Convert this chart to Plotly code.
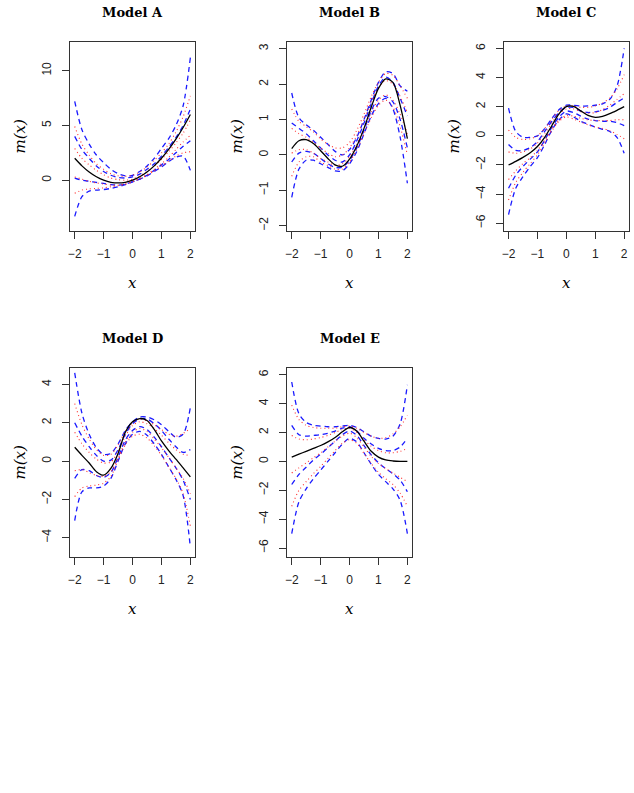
import plotly.graph_objects as go

# ---------------- data ----------------
X = [-2.0, -1.75, -1.5, -1.25, -1.0, -0.75, -0.5, -0.25, 0.0,
     0.25, 0.5, 0.75, 1.0, 1.25, 1.5, 1.75, 2.0]
X_TICKS = [-2, -1, 0, 1, 2]
TITLES = ["Model A", "Model B", "Model C", "Model D", "Model E"]

A_YTICKS = [0, 5, 10]
A_TRUE = [2.0, 1.31, 0.75, 0.31, 0.0, -0.19, -0.25, -0.19, 0.0, 0.31, 0.75, 1.31, 2.0, 2.81, 3.75, 4.81, 6.0]
A_BLUE_1 = [7.2, 4.6, 3.3, 2.3, 1.6, 1.0, 0.6, 0.4, 0.45, 0.8, 1.3, 2.0, 2.9, 3.8, 5.0, 6.8, 11.2]
A_BLUE_2 = [4.0, 2.8, 2.0, 1.3, 0.8, 0.45, 0.25, 0.2, 0.3, 0.55, 1.0, 1.5, 2.2, 3.0, 3.9, 5.0, 6.5]
A_BLUE_3 = [0.2, 0.0, -0.1, -0.2, -0.3, -0.4, -0.45, -0.35, -0.15, 0.1, 0.45, 0.9, 1.4, 1.9, 2.5, 3.1, 3.6]
A_BLUE_4 = [-3.3, -1.5, -1.0, -0.9, -0.85, -0.75, -0.6, -0.4, -0.15, 0.1, 0.4, 0.8, 1.2, 1.7, 2.1, 2.2, 0.9]
A_RED_1 = [4.9, 3.3, 2.3, 1.5, 1.0, 0.6, 0.4, 0.35, 0.45, 0.75, 1.2, 1.8, 2.5, 3.3, 4.4, 5.8, 7.7]
A_RED_2 = [2.9, 2.0, 1.4, 0.9, 0.5, 0.2, 0.05, 0.0, 0.1, 0.4, 0.8, 1.3, 1.9, 2.6, 3.4, 4.3, 5.5]
A_RED_3 = [0.3, 0.1, -0.1, -0.25, -0.35, -0.45, -0.45, -0.35, -0.15, 0.15, 0.5, 1.0, 1.5, 2.1, 2.8, 3.5, 4.1]
A_RED_4 = [-1.2, -0.9, -0.8, -0.75, -0.7, -0.6, -0.5, -0.35, -0.1, 0.15, 0.45, 0.85, 1.3, 1.75, 2.2, 2.5, 2.6]

B_YTICKS = [-2, -1, 0, 1, 2, 3]
B_TRUE = [0.18, 0.40, 0.43, 0.32, 0.12, -0.1, -0.28, -0.32, -0.12, 0.25, 0.75, 1.35, 1.88, 2.15, 2.05, 1.4, 0.46]
B_BLUE_1 = [1.75, 1.05, 0.85, 0.7, 0.5, 0.3, 0.1, 0.0, 0.15, 0.5, 1.0, 1.55, 2.05, 2.35, 2.3, 1.95, 1.8]
B_BLUE_2 = [0.9, 0.75, 0.6, 0.4, 0.2, 0.0, -0.15, -0.2, 0.0, 0.4, 0.9, 1.45, 1.95, 2.2, 2.05, 1.6, 1.1]
B_BLUE_3 = [-0.2, 0.05, 0.1, 0.05, -0.1, -0.25, -0.35, -0.35, -0.15, 0.2, 0.7, 1.25, 1.6, 1.65, 1.5, 1.0, 0.2]
B_BLUE_4 = [-1.2, -0.4, -0.15, -0.15, -0.25, -0.35, -0.45, -0.45, -0.25, 0.1, 0.6, 1.1, 1.45, 1.6, 1.3, 0.5, -0.8]
B_RED_1 = [1.3, 0.95, 0.8, 0.65, 0.45, 0.3, 0.2, 0.2, 0.35, 0.7, 1.15, 1.65, 2.05, 2.3, 2.25, 1.95, 1.6]
B_RED_2 = [0.75, 0.6, 0.5, 0.35, 0.2, 0.05, -0.05, 0.0, 0.2, 0.55, 1.0, 1.5, 1.9, 2.1, 2.0, 1.65, 1.2]
B_RED_3 = [0.05, 0.15, 0.15, 0.05, -0.1, -0.2, -0.3, -0.25, -0.05, 0.3, 0.75, 1.2, 1.55, 1.7, 1.55, 1.15, 0.6]
B_RED_4 = [-0.6, -0.2, -0.05, -0.05, -0.2, -0.3, -0.4, -0.4, -0.2, 0.15, 0.6, 1.05, 1.4, 1.55, 1.35, 0.8, 0.0]

C_YTICKS = [-6, -4, -2, 0, 2, 4, 6]
C_TRUE = [-2.0, -1.75, -1.48, -1.16, -0.73, -0.10, 0.71, 1.52, 2.0, 2.02, 1.71, 1.40, 1.27, 1.34, 1.52, 1.75, 2.0]
C_BLUE_1 = [1.9, 0.3, -0.1, -0.1, 0.0, 0.5, 1.2, 1.8, 2.1, 2.1, 2.05, 2.05, 2.1, 2.2, 2.5, 3.4, 6.0]
C_BLUE_2 = [-0.6, -1.0, -1.0, -0.8, -0.4, 0.3, 1.0, 1.6, 1.95, 1.95, 1.7, 1.6, 1.65, 1.75, 1.95, 2.3, 2.6]
C_BLUE_3 = [-3.6, -2.7, -2.1, -1.6, -1.1, -0.3, 0.6, 1.3, 1.7, 1.6, 1.35, 1.15, 1.05, 1.0, 1.0, 0.9, 0.7]
C_BLUE_4 = [-5.4, -3.6, -2.8, -2.1, -1.5, -0.6, 0.4, 1.1, 1.5, 1.3, 1.0, 0.8, 0.6, 0.45, 0.3, -0.1, -1.2]
C_RED_1 = [0.4, -0.1, -0.25, -0.2, 0.0, 0.5, 1.15, 1.75, 2.05, 2.05, 1.95, 1.95, 2.05, 2.25, 2.6, 3.2, 4.2]
C_RED_2 = [-1.1, -1.2, -1.1, -0.9, -0.5, 0.15, 0.9, 1.5, 1.85, 1.85, 1.65, 1.55, 1.6, 1.8, 2.1, 2.5, 2.9]
C_RED_3 = [-3.0, -2.4, -1.9, -1.5, -1.0, -0.3, 0.5, 1.1, 1.4, 1.35, 1.2, 1.1, 1.05, 1.05, 1.05, 1.1, 1.1]
C_RED_4 = [-4.4, -3.2, -2.5, -1.9, -1.3, -0.5, 0.35, 1.0, 1.3, 1.15, 0.95, 0.75, 0.6, 0.5, 0.35, 0.1, -0.2]

D_YTICKS = [-4, -2, 0, 2, 4]
D_TRUE = [0.72, 0.3, -0.1, -0.55, -0.73, -0.38, 0.4, 1.5, 2.05, 2.22, 2.12, 1.65, 1.05, 0.55, 0.1, -0.35, -0.82]
D_BLUE_1 = [4.6, 2.5, 1.4, 0.7, 0.35, 0.4, 0.9, 1.6, 2.05, 2.3, 2.3, 2.15, 1.9, 1.55, 1.25, 1.4, 2.8]
D_BLUE_2 = [2.0, 1.3, 0.75, 0.3, 0.0, 0.05, 0.6, 1.4, 1.95, 2.2, 2.2, 1.95, 1.6, 1.15, 0.75, 0.45, 0.6]
D_BLUE_3 = [-0.9, -0.45, -0.5, -0.75, -0.85, -0.6, 0.2, 1.1, 1.6, 1.8, 1.65, 1.25, 0.75, 0.2, -0.35, -1.0, -2.0]
D_BLUE_4 = [-3.1, -1.6, -1.4, -1.4, -1.3, -0.9, 0.0, 0.9, 1.4, 1.55, 1.35, 0.9, 0.35, -0.3, -0.95, -1.8, -4.5]
D_RED_1 = [3.0, 1.9, 1.15, 0.6, 0.3, 0.35, 0.85, 1.55, 2.0, 2.2, 2.1, 1.9, 1.65, 1.4, 1.3, 1.45, 1.7]
D_RED_2 = [1.5, 0.9, 0.45, 0.1, -0.1, -0.05, 0.5, 1.3, 1.85, 2.05, 1.95, 1.7, 1.35, 0.95, 0.6, 0.35, 0.3]
D_RED_3 = [-0.5, -0.45, -0.6, -0.75, -0.8, -0.55, 0.15, 1.0, 1.5, 1.7, 1.55, 1.15, 0.7, 0.2, -0.35, -0.9, -1.7]
D_RED_4 = [-1.85, -1.4, -1.3, -1.25, -1.15, -0.8, 0.05, 0.85, 1.3, 1.4, 1.2, 0.8, 0.3, -0.3, -0.9, -1.7, -3.4]

E_YTICKS = [-6, -4, -2, 0, 2, 4, 6]
E_TRUE = [0.3, 0.5, 0.7, 0.9, 1.1, 1.35, 1.65, 2.05, 2.35, 2.1, 1.4, 0.7, 0.3, 0.1, 0.03, 0.0, 0.0]
E_BLUE_1 = [5.5, 3.3, 2.7, 2.5, 2.45, 2.4, 2.4, 2.45, 2.5, 2.35, 2.05, 1.75, 1.6, 1.55, 1.75, 2.6, 5.3]
E_BLUE_2 = [2.5, 1.85, 1.75, 1.8, 1.85, 1.95, 2.1, 2.3, 2.4, 2.1, 1.6, 1.2, 0.9, 0.75, 0.75, 1.0, 1.6]
E_BLUE_3 = [-1.6, -0.9, -0.4, 0.1, 0.5, 0.95, 1.4, 1.85, 2.1, 1.8, 1.1, 0.45, -0.1, -0.5, -0.85, -1.3, -2.1]
E_BLUE_4 = [-5.0, -2.8, -1.9, -1.2, -0.6, 0.0, 0.6, 1.2, 1.6, 1.35, 0.6, -0.2, -0.9, -1.4, -1.9, -2.7, -5.0]
E_RED_1 = [3.9, 2.9, 2.5, 2.35, 2.3, 2.3, 2.3, 2.4, 2.45, 2.3, 2.0, 1.75, 1.6, 1.65, 1.9, 2.4, 3.2]
E_RED_2 = [1.8, 1.55, 1.5, 1.55, 1.65, 1.8, 2.0, 2.2, 2.3, 2.0, 1.5, 1.05, 0.75, 0.6, 0.6, 0.7, 0.9]
E_RED_3 = [-0.8, -0.45, -0.1, 0.25, 0.6, 1.0, 1.4, 1.75, 1.95, 1.65, 1.0, 0.35, -0.15, -0.5, -0.8, -1.1, -1.4]
E_RED_4 = [-3.1, -2.0, -1.4, -0.85, -0.35, 0.2, 0.75, 1.25, 1.5, 1.25, 0.55, -0.15, -0.75, -1.2, -1.6, -2.2, -3.1]

# ---------------- layout (pixels) ----------------
W, H = 634, 793
COL_LEFT = [68.3, 286.0, 503.5]
BOX_W = 125.3
ROW_TOP = [41.7, 367.7]
BOX_H = 189.3
X_RANGE = [-2.16, 2.16]
Y_RANGES = [[-4.64, 12.65], [-2.15, 3.2], [-6.53, 6.46], [-5.0, 4.87], [-6.62, 6.49]]

panels = [
    (A_YTICKS, A_TRUE, [A_BLUE_1, A_BLUE_2, A_BLUE_3, A_BLUE_4], [A_RED_1, A_RED_2, A_RED_3, A_RED_4]),
    (B_YTICKS, B_TRUE, [B_BLUE_1, B_BLUE_2, B_BLUE_3, B_BLUE_4], [B_RED_1, B_RED_2, B_RED_3, B_RED_4]),
    (C_YTICKS, C_TRUE, [C_BLUE_1, C_BLUE_2, C_BLUE_3, C_BLUE_4], [C_RED_1, C_RED_2, C_RED_3, C_RED_4]),
    (D_YTICKS, D_TRUE, [D_BLUE_1, D_BLUE_2, D_BLUE_3, D_BLUE_4], [D_RED_1, D_RED_2, D_RED_3, D_RED_4]),
    (E_YTICKS, E_TRUE, [E_BLUE_1, E_BLUE_2, E_BLUE_3, E_BLUE_4], [E_RED_1, E_RED_2, E_RED_3, E_RED_4]),
]

fig = go.Figure()
annotations = []
layout_axes = {}

TICK_FONT = dict(family="Liberation Sans, Arial, sans-serif", size=12, color="#222")
SERIF_IT = dict(family="DejaVu Serif, serif", size=15, color="black", style="italic")
TITLE_FONT = dict(family="DejaVu Serif, serif", size=13, color="black", weight="bold")

for i, (yticks, truth, blues, reds) in enumerate(panels):
    r, c = divmod(i, 3)
    left = COL_LEFT[c]
    top = ROW_TOP[r]
    xd = [left / W, (left + BOX_W) / W]
    yd = [1 - (top + BOX_H) / H, 1 - top / H]
    n = i + 1
    xa = "xaxis" if n == 1 else f"xaxis{n}"
    ya = "yaxis" if n == 1 else f"yaxis{n}"
    xref = "x" if n == 1 else f"x{n}"
    yref = "y" if n == 1 else f"y{n}"

    for b in blues:
        fig.add_trace(go.Scatter(x=X, y=b, mode="lines", xaxis=xref, yaxis=yref,
                                 line=dict(color="#1a1aff", width=1.3, dash="5px,4px", shape="spline", smoothing=0.8),
                                 showlegend=False, hoverinfo="skip"))
    for rd in reds:
        fig.add_trace(go.Scatter(x=X, y=rd, mode="lines", xaxis=xref, yaxis=yref,
                                 line=dict(color="#ff3030", width=1.1, dash="1px,3px", shape="spline", smoothing=0.8),
                                 showlegend=False, hoverinfo="skip"))
    fig.add_trace(go.Scatter(x=X, y=truth, mode="lines", xaxis=xref, yaxis=yref,
                             line=dict(color="black", width=1.3, shape="spline", smoothing=0.8),
                             showlegend=False, hoverinfo="skip"))

    layout_axes[xa] = dict(domain=xd, range=X_RANGE, anchor=yref, tickmode="array",
                           tickvals=X_TICKS, ticktext=["\u22122", "\u22121", "0", "1", "2"],
                           ticks="outside", ticklen=7, tickcolor="#333", tickwidth=1,
                           showline=True, linecolor="#333", linewidth=1, mirror=True,
                           showgrid=False, zeroline=False, tickfont=TICK_FONT,
                           ticklabelstandoff=5, fixedrange=True)
    layout_axes[ya] = dict(domain=yd, range=Y_RANGES[i], anchor=xref, tickmode="array",
                           tickvals=yticks, ticks="outside", ticklen=7, tickcolor="#333", tickwidth=1,
                           showline=True, linecolor="#333", linewidth=1, mirror=True,
                           showgrid=False, zeroline=False, tickfont=TICK_FONT, tickangle=-90,
                           ticklabelstandoff=6, fixedrange=True)

    cx = (left + BOX_W / 2) / W
    annotations.append(dict(text="<b>" + TITLES[i] + "</b>", x=cx, y=1 - (top - 29.5) / H, xref="paper", yref="paper",
                            xanchor="center", yanchor="middle", showarrow=False, font=TITLE_FONT))
    annotations.append(dict(text="x", x=cx, y=1 - (top + 241.5) / H, xref="paper", yref="paper",
                            xanchor="center", yanchor="middle", showarrow=False, font=SERIF_IT))
    annotations.append(dict(text="m(x)", x=(left - 50) / W, y=1 - (top + BOX_H / 2) / H, xref="paper",
                            yref="paper", xanchor="center", yanchor="middle", showarrow=False,
                            textangle=-90, font=SERIF_IT))

fig.update_layout(width=W, height=H, margin=dict(l=0, r=0, t=0, b=0),
                  paper_bgcolor="white", plot_bgcolor="white",
                  annotations=annotations, **layout_axes)

fig.write_html("out.html")
